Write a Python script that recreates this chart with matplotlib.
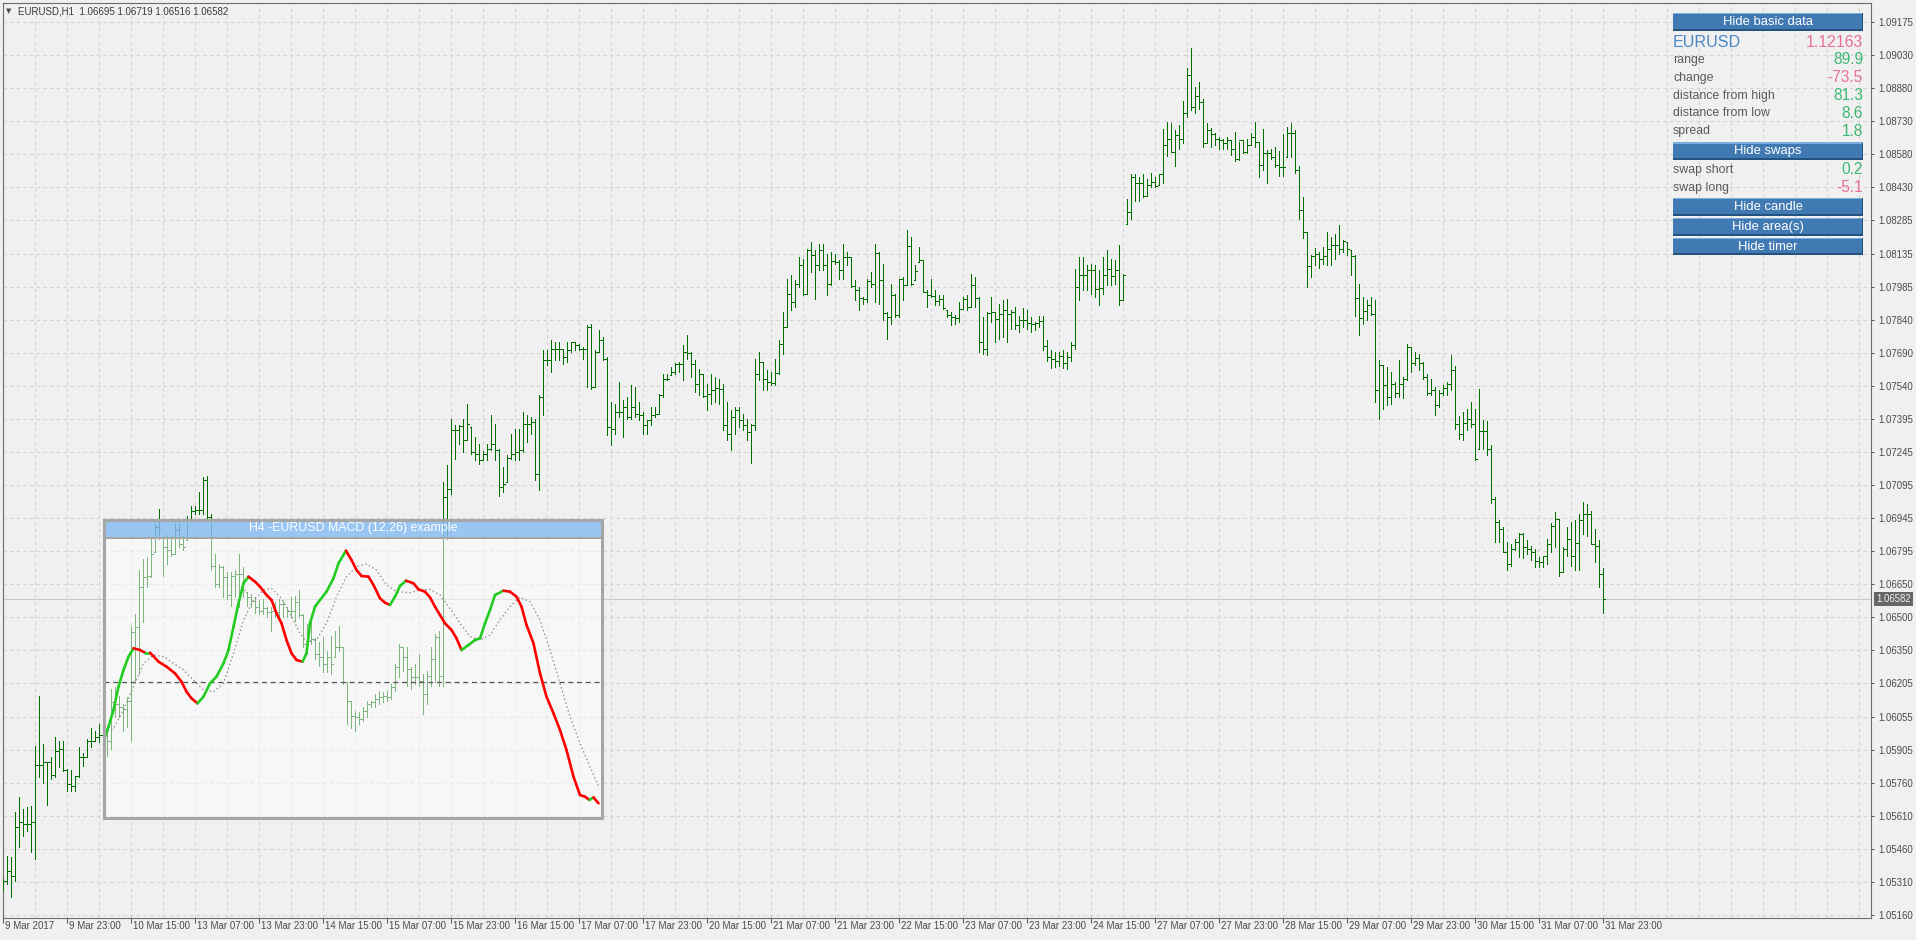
import numpy as np
import matplotlib
matplotlib.use("Agg")
import matplotlib.pyplot as plt
from matplotlib.collections import LineCollection
from matplotlib.patches import Rectangle

plt.rcParams['font.family'] = ['Liberation Sans', 'DejaVu Sans']

# EURUSD H1 bars 9 Mar 2017 07:00 .. 31 Mar 2017 23:00
# prices in points: price = 1 + v / 1e5 ; open = previous close (kept inside the bar range)
bar_high = [
    5322, 5427, 5422, 5621, 5692, 5636, 5647, 5651, 5921, 6146,
    5929, 5850, 5872, 5959, 5941, 5944, 5816, 5812, 5786, 5917,
    5887, 5950, 6001, 5989, 6019, 6019, 5989, 6176, 6184, 6146,
    6109, 6139, 6461, 6514, 6709, 6761, 6769, 6859, 6919, 6986,
    6866, 6869, 6866, 6919, 6919, 6866, 6956, 7001, 7001, 7061,
    7129, 7136, 6964, 6784, 6739, 6731, 6701, 6701, 6709, 6784,
    6724, 6611, 6604, 6590, 6575, 6580, 6545, 6545, 6566, 6581,
    6574, 6544, 6589, 6596, 6619, 6514, 6469, 6499, 6406, 6386,
    6409, 6349, 6416, 6439, 6461, 6364, 6206, 6124, 6079, 6071,
    6094, 6124, 6124, 6154, 6169, 6161, 6169, 6199, 6289, 6379,
    6364, 6364, 6274, 6289, 6334, 6244, 6259, 6364, 6424, 6439,
    7106, 7181, 7391, 7361, 7361, 7391, 7459, 7354, 7309, 7279,
    7246, 7279, 7406, 7369, 7256, 7174, 7226, 7324, 7346, 7346,
    7421, 7406, 7399, 7391, 7496, 7699, 7699, 7744, 7736, 7736,
    7706, 7736, 7736, 7736, 7729, 7714, 7811, 7819, 7699, 7789,
    7759, 7669, 7466, 7459, 7556, 7474, 7489, 7541, 7534, 7466,
    7421, 7384, 7444, 7444, 7504, 7594, 7594, 7624, 7642, 7646,
    7721, 7766, 7691, 7654, 7616, 7594, 7549, 7594, 7579, 7571,
    7549, 7466, 7429, 7444, 7444, 7414, 7391, 7369, 7661, 7691,
    7646, 7609, 7601, 7661, 7744, 7871, 8021, 8036, 8014, 8119,
    8111, 8156, 8186, 8149, 8179, 8179, 8134, 8141, 8134, 8104,
    8179, 8141, 8119, 8014, 7984, 7939, 8021, 8051, 8179, 8141,
    8089, 7871, 7999, 7954, 8021, 8029, 8242, 8209, 8081, 8164,
    8104, 7969, 8021, 7969, 7946, 7946, 7879, 7871, 7856, 7916,
    7939, 7946, 8044, 8029, 7939, 7849, 7871, 7939, 7869, 7909,
    7927, 7931, 7882, 7894, 7852, 7891, 7882, 7849, 7826, 7852,
    7852, 7745, 7700, 7690, 7690, 7700, 7690, 7736, 8066, 8119,
    8119, 8081, 8089, 8081, 8059, 8119, 8149, 8111, 8104, 8171,
    8044, 8381, 8491, 8491, 8479, 8491, 8471, 8494, 8479, 8491,
    8692, 8727, 8719, 8689, 8711, 8821, 8966, 9056, 8881, 8906,
    8827, 8719, 8697, 8674, 8659, 8651, 8659, 8644, 8681, 8636,
    8644, 8651, 8674, 8726, 8636, 8692, 8599, 8606, 8614, 8596,
    8671, 8704, 8719, 8689, 8527, 8389, 8232, 8127, 8157, 8142,
    8164, 8231, 8209, 8224, 8261, 8194, 8186, 8149, 8126, 7999,
    7939, 7924, 7939, 7927, 7654, 7631, 7624, 7601, 7556, 7654,
    7579, 7729, 7714, 7691, 7681, 7646, 7594, 7571, 7534, 7519,
    7541, 7556, 7676, 7627, 7402, 7421, 7436, 7466, 7436, 7526,
    7384, 7381, 7271, 7039, 6934, 6904, 6836, 6829, 6851, 6877,
    6877, 6844, 6821, 6806, 6769, 6776, 6851, 6922, 6971, 6941,
    6814, 6904, 6926, 6937, 6964, 7016, 7009, 6976, 6896, 6844,
    6719,
]
bar_low = [
    5272, 5299, 5239, 5314, 5464, 5516, 5539, 5441, 5412, 5782,
    5752, 5654, 5771, 5779, 5824, 5809, 5719, 5719, 5719, 5779,
    5832, 5869, 5917, 5944, 5936, 5869, 5877, 5906, 6049, 6049,
    5989, 6004, 5944, 6214, 6244, 6476, 6634, 6679, 6791, 6851,
    6686, 6739, 6776, 6784, 6814, 6799, 6847, 6934, 6964, 6964,
    6964, 6934, 6709, 6634, 6634, 6589, 6581, 6551, 6589, 6544,
    6589, 6551, 6544, 6520, 6514, 6514, 6499, 6439, 6499, 6484,
    6499, 6499, 6499, 6484, 6499, 6364, 6364, 6379, 6311, 6281,
    6251, 6251, 6244, 6319, 6349, 6199, 6020, 6000, 5989, 6019,
    6034, 6049, 6094, 6094, 6109, 6116, 6124, 6131, 6169, 6229,
    6259, 6191, 6176, 6199, 6191, 6064, 6109, 6191, 6206, 6191,
    6191, 6851, 7054, 7211, 7279, 7241, 7294, 7234, 7204, 7189,
    7204, 7204, 7249, 7204, 7046, 7061, 7106, 7211, 7204, 7204,
    7241, 7286, 7324, 7114, 7069, 7406, 7631, 7601, 7654, 7654,
    7639, 7646, 7691, 7699, 7699, 7661, 7534, 7526, 7534, 7691,
    7654, 7316, 7271, 7324, 7399, 7309, 7391, 7391, 7399, 7384,
    7324, 7324, 7361, 7399, 7414, 7489, 7564, 7586, 7594, 7601,
    7564, 7661, 7579, 7511, 7496, 7489, 7429, 7459, 7466, 7459,
    7339, 7294, 7250, 7324, 7354, 7339, 7294, 7190, 7339, 7564,
    7519, 7519, 7541, 7541, 7594, 7684, 7804, 7879, 7894, 7984,
    7946, 7954, 8051, 7931, 8059, 8059, 7946, 7991, 8089, 8021,
    8021, 8081, 7984, 7924, 7879, 7909, 7916, 7984, 7916, 7909,
    7834, 7751, 7819, 7849, 7849, 7924, 7991, 7991, 8014, 8096,
    7961, 7894, 7939, 7901, 7901, 7886, 7849, 7811, 7819, 7826,
    7886, 7882, 7894, 7894, 7691, 7684, 7676, 7826, 7736, 7751,
    7759, 7736, 7796, 7796, 7781, 7804, 7796, 7781, 7789, 7804,
    7700, 7650, 7620, 7625, 7630, 7620, 7615, 7650, 7706, 7924,
    7969, 7969, 7954, 7939, 7901, 7954, 7991, 7991, 7999, 7901,
    7924, 8269, 8291, 8371, 8371, 8389, 8392, 8431, 8434, 8441,
    8449, 8572, 8591, 8527, 8606, 8632, 8749, 8779, 8764, 8786,
    8614, 8629, 8614, 8621, 8606, 8606, 8606, 8577, 8551, 8554,
    8584, 8584, 8621, 8614, 8479, 8509, 8452, 8561, 8524, 8482,
    8482, 8569, 8569, 8494, 8291, 8202, 7984, 8029, 8082, 8067,
    8089, 8081, 8081, 8111, 8134, 8141, 8126, 8036, 7852, 7766,
    7819, 7837, 7856, 7466, 7391, 7436, 7451, 7459, 7489, 7489,
    7486, 7564, 7601, 7631, 7609, 7571, 7496, 7496, 7406, 7444,
    7496, 7496, 7519, 7346, 7302, 7294, 7339, 7354, 7204, 7256,
    7256, 7226, 7012, 6836, 6836, 6791, 6709, 6731, 6802, 6769,
    6766, 6784, 6754, 6724, 6724, 6724, 6739, 6791, 6814, 6686,
    6701, 6776, 6731, 6709, 6709, 6874, 6866, 6829, 6746, 6634,
    6516,
]
bar_close = [
    5314, 5359, 5336, 5554, 5576, 5571, 5569, 5576, 5836, 5836,
    5850, 5846, 5791, 5899, 5906, 5813, 5749, 5741, 5786, 5869,
    5869, 5944, 5944, 5959, 5971, 5974, 5944, 6116, 6109, 6094,
    6086, 6124, 6431, 6454, 6634, 6679, 6686, 6784, 6904, 6859,
    6814, 6799, 6784, 6889, 6829, 6814, 6941, 6976, 6979, 6979,
    7114, 6949, 6731, 6649, 6724, 6679, 6599, 6686, 6694, 6694,
    6619, 6589, 6574, 6546, 6529, 6540, 6521, 6529, 6521, 6559,
    6559, 6529, 6529, 6566, 6510, 6379, 6394, 6400, 6334, 6319,
    6289, 6319, 6289, 6364, 6364, 6206, 6124, 6056, 6049, 6041,
    6079, 6109, 6116, 6131, 6139, 6146, 6139, 6184, 6274, 6364,
    6319, 6266, 6229, 6229, 6214, 6154, 6236, 6311, 6409, 6236,
    7039, 7076, 7339, 7339, 7357, 7294, 7369, 7241, 7234, 7204,
    7234, 7256, 7279, 7249, 7084, 7099, 7214, 7234, 7241, 7249,
    7369, 7369, 7376, 7144, 7489, 7654, 7654, 7706, 7706, 7706,
    7669, 7699, 7736, 7721, 7706, 7706, 7804, 7534, 7691, 7744,
    7661, 7354, 7346, 7421, 7421, 7444, 7399, 7444, 7414, 7406,
    7361, 7384, 7406, 7414, 7496, 7570, 7571, 7601, 7639, 7639,
    7691, 7687, 7639, 7546, 7594, 7492, 7504, 7519, 7531, 7526,
    7364, 7324, 7400, 7429, 7384, 7361, 7331, 7361, 7594, 7646,
    7571, 7556, 7552, 7597, 7726, 7804, 7954, 7916, 7999, 8084,
    7954, 8149, 8126, 8084, 8152, 8084, 7996, 8099, 8096, 8062,
    8119, 8119, 7987, 7969, 7936, 7931, 8011, 7999, 8137, 8017,
    7867, 7849, 7946, 7856, 8020, 7994, 8167, 7999, 8054, 8104,
    7961, 7946, 7942, 7919, 7931, 7889, 7856, 7849, 7846, 7886,
    7931, 7894, 7991, 7934, 7736, 7706, 7866, 7871, 7841, 7864,
    7882, 7864, 7871, 7811, 7834, 7837, 7822, 7819, 7822, 7831,
    7720, 7670, 7660, 7650, 7675, 7640, 7670, 7724, 7984, 8036,
    8036, 8059, 8059, 7976, 7979, 8036, 8066, 8032, 8059, 7927,
    8036, 8321, 8479, 8449, 8452, 8392, 8441, 8456, 8437, 8491,
    8621, 8647, 8591, 8669, 8651, 8764, 8936, 8791, 8844, 8816,
    8632, 8689, 8671, 8649, 8644, 8629, 8644, 8606, 8561, 8644,
    8591, 8621, 8656, 8636, 8531, 8584, 8584, 8569, 8531, 8521,
    8524, 8674, 8677, 8509, 8329, 8232, 8077, 8125, 8131, 8111,
    8122, 8156, 8171, 8171, 8156, 8191, 8156, 8122, 7936, 7846,
    7876, 7901, 7864, 7519, 7631, 7541, 7489, 7549, 7507, 7549,
    7571, 7714, 7642, 7666, 7642, 7579, 7507, 7519, 7451, 7507,
    7531, 7546, 7609, 7366, 7324, 7372, 7391, 7366, 7211, 7336,
    7336, 7256, 7031, 6926, 6896, 6794, 6739, 6806, 6836, 6874,
    6814, 6806, 6791, 6751, 6746, 6772, 6829, 6907, 6941, 6701,
    6806, 6851, 6772, 6832, 6937, 6964, 6964, 6829, 6821, 6695,
    6582,
]

xtick_labels = ["9 Mar 2017", "9 Mar 23:00", "10 Mar 15:00", "13 Mar 07:00", "13 Mar 23:00",
                "14 Mar 15:00", "15 Mar 07:00", "15 Mar 23:00", "16 Mar 15:00", "17 Mar 07:00",
                "17 Mar 23:00", "20 Mar 15:00", "21 Mar 07:00", "21 Mar 23:00", "22 Mar 15:00",
                "23 Mar 07:00", "23 Mar 23:00", "24 Mar 15:00", "27 Mar 07:00", "27 Mar 23:00",
                "28 Mar 15:00", "29 Mar 07:00", "29 Mar 23:00", "30 Mar 15:00", "31 Mar 07:00",
                "31 Mar 23:00"]
ytick_labels = ["1.05160", "1.05310", "1.05460", "1.05610", "1.05760", "1.05905", "1.06055",
                "1.06205", "1.06350", "1.06500", "1.06650", "1.06795", "1.06945", "1.07095",
                "1.07245", "1.07395", "1.07540", "1.07690", "1.07840", "1.07985", "1.08135",
                "1.08285", "1.08430", "1.08580", "1.08730", "1.08880", "1.09030", "1.09175"]
header = "EURUSD,H1  1.06695 1.06719 1.06516 1.06582"
last_price = 1.06582

# H4 MACD(12,26) inset, values in points (1e-5)
macd_x = [0, 0.9, 1.9, 2.9, 3.9, 4.9, 5.9, 7.2, 8.2, 9.2, 10.9, 12.5, 14.2, 15.5, 16.5, 17.5,
          18.7, 19.9, 21.2, 22.5, 23.9, 24.9, 25.9, 26.9, 27.9, 28.9, 30.2, 31.2, 32.5, 33.5,
          34.5, 35.5, 36.5, 37.5, 38.5, 39.7, 40.5, 41.2, 42.2, 43.2, 44.5, 45.9, 46.9, 48.4,
          49.5, 50.5, 51.5, 52.9, 53.9, 55.2, 56.2, 57.2, 58.2, 59.2, 60.4, 61.9, 62.9, 64.2,
          65.2, 66.2, 67.2, 68.2, 69.5, 70.5, 71.5, 72.9, 74.2, 75.2, 76.2, 77.2, 78.2, 79.9,
          81.2, 82.5, 83.5, 84.5, 85.9, 87.2, 88.5, 89.9, 91.2, 92.5, 93.9, 95.2, 96.2, 97.1,
          97.9, 98.9]
macd_val = [-175, -135, -85, -15, 35, 75, 100, 95, 87, 87, 60, 45, 25, 0, -30, -50,
            -65, -45, -5, 15, 55, 95, 165, 235, 295, 315, 300, 285, 260, 245,
            205, 175, 125, 85, 65, 60, 85, 175, 225, 245, 270, 310, 355, 393,
            365, 335, 317, 315, 290, 250, 237, 230, 255, 287, 303, 295, 277, 270,
            253, 225, 200, 175, 155, 130, 95, 110, 125, 130, 175, 215, 260, 273,
            270, 255, 225, 170, 115, 25, -45, -95, -145, -205, -285, -340, -345, -355,
            -347, -365]
sig_x = [0, 1.9, 3.9, 5.9, 7.9, 9.9, 11.9, 13.9, 15.9, 17.9, 19.9, 21.9, 23.9, 25.9, 27.9,
         29.9, 31.9, 33.5, 35.2, 37.2, 39.2, 40.5, 42.5, 44.5, 46.5, 48.5, 50.5, 52.5, 54.5,
         56.5, 58.5, 61.2, 63.2, 65.2, 67.2, 69.2, 71.2, 73.2, 75.2, 77.2, 79.2, 81.2, 83.2,
         85.2, 87.2, 89.2, 91.2, 93.2, 95.2, 97.2, 98.9]
sig_val = [-155, -140, -85, -15, 55, 80, 75, 55, 35, 5, -25, -30, -5, 85, 185,
           245, 275, 280, 255, 205, 145, 120, 125, 175, 255, 315, 345, 353, 335,
           290, 270, 267, 275, 277, 260, 220, 175, 135, 125, 140, 185, 225, 253,
           240, 185, 95, -5, -105, -185, -255, -313]
inset_title = "H4 -EURUSD MACD (12,26) example"

symbol_name, symbol_value = "EURUSD", "1.12163"
info_labels = ["range", "change", "distance from high", "distance from low", "spread"]
info_values = ["89.9", "-73.5", "81.3", "8.6", "1.8"]
swap_labels = ["swap short", "swap long"]
swap_values = ["0.2", "-5.1"]
button_labels = ["Hide basic data", "Hide swaps", "Hide candle", "Hide area(s)", "Hide timer"]

W, HP = 1916, 940
BG = '#f0f0f0'
GRID = '#d2d2d2'
BAR = '#006e00'
GREEN_TXT = '#3db873'
PINK_TXT = '#e8709a'

fig = plt.figure(figsize=(W / 100, HP / 100), dpi=100, facecolor=BG)


def box(x0, y0, x1, y1):
    return [x0 / W, 1 - y1 / HP, (x1 - x0) / W, (y1 - y0) / HP]


def fig_rect(x0, y0, x1, y1, **kw):
    r = Rectangle((x0 / W, 1 - y1 / HP), (x1 - x0) / W, (y1 - y0) / HP,
                  transform=fig.transFigure, **kw)
    fig.add_artist(r)
    return r


ax = fig.add_axes(box(2.5, 2.5, 1871, 918))
ax.set_facecolor(BG)

n = min(len(bar_high), len(bar_low), len(bar_close))
hi = 1 + np.array(bar_high[:n]) / 1e5
lo = 1 + np.array(bar_low[:n]) / 1e5
cl = 1 + np.array(bar_close[:n]) / 1e5
op = np.clip(np.r_[cl[0], cl[:-1]], lo, hi)

segs = []
for i in range(n):
    segs.append([(i, lo[i]), (i, hi[i])])
    segs.append([(i - 0.35, op[i]), (i, op[i])])
    segs.append([(i, cl[i]), (i + 0.35, cl[i])])
ax.add_collection(LineCollection(segs, colors=BAR, linewidths=0.72,
                                 antialiased=False, zorder=3))

ax.axhline(last_price, color='#c9c9c9', lw=0.8, zorder=1)

ax.set_xlim(-0.2, 466.9)
ax.set_ylim(1.051465, 1.092627)

xt = np.arange(len(xtick_labels)) * 16
ax.set_xticks(xt)
ax.set_xticks(np.arange(8, 467, 8), minor=True)
ax.tick_params(axis='x', which='major', direction='out', length=3.6, width=0.7,
               color='#505050', labelbottom=False)
ax.tick_params(axis='x', which='minor', length=0)
for pos, lab in zip(xt, xtick_labels):
    ax.annotate(lab, xy=(pos, 0), xycoords=ax.get_xaxis_transform(),
                xytext=(1.5, -3), textcoords='offset pixels', ha='left', va='top',
                fontsize=7, color='#4a4a4a')

yt = np.linspace(1.05160, 1.09175, len(ytick_labels))
ax.yaxis.tick_right()
ax.set_yticks(yt)
ax.set_yticklabels(ytick_labels)
ax.tick_params(axis='y', direction='out', length=2.5, width=0.7, pad=3,
               labelsize=6.9, labelcolor='#4a4a4a', color='#505050')

ax.grid(True, axis='x', which='both', color=GRID, lw=0.8, ls=(0, (3, 3)), zorder=0)
ax.grid(True, axis='y', which='major', color=GRID, lw=0.8, ls=(0, (3, 3)), zorder=0)
ax.set_axisbelow(True)
for s in ax.spines.values():
    s.set_color('#6e6e6e')
    s.set_linewidth(0.8)

ax.annotate(f"{last_price:.5f}", xy=(1, last_price), xycoords=ax.get_yaxis_transform(),
            xytext=(5, 0), textcoords='offset pixels', ha='left', va='center',
            fontsize=6.9, color='#f2f2f2',
            bbox=dict(boxstyle='square,pad=0.2', fc='#666666', ec='none'))

# header
fig.text(6 / W, 1 - 11 / HP, "\u25BC", fontsize=5, color='#505050', va='center',
         family='DejaVu Sans')
fig.text(18 / W, 1 - 11 / HP, header, fontsize=7, color='#3a3a3a', va='center')

# MACD inset
axm = fig.add_axes(box(104, 538, 602, 818), zorder=2)
axm.set_facecolor((1, 1, 1, 0.5))
axm.set_xlim(0, 99.6)
axm.set_ylim(-409, 431)
axm.set_xticks([])
axm.set_yticks([])
for s in axm.spines.values():
    s.set_visible(False)
axm.axhline(0, color='#555555', lw=0.9, ls=(0, (4, 3)))
axm.plot(sig_x, sig_val, color='#8c8c8c', lw=0.9, ls=(0, (1.2, 2.0)))
mx = np.array(macd_x)
mv = np.array(macd_val)
mseg = [[(mx[k], mv[k]), (mx[k + 1], mv[k + 1])] for k in range(len(mx) - 1)]
mcol = ['#22cc22' if mv[k + 1] >= mv[k] else '#ff0000' for k in range(len(mx) - 1)]
axm.add_collection(LineCollection(mseg, colors=mcol, linewidths=1.9, capstyle='round'))

fig_rect(104, 520, 602, 537, fc='#86bcf4', ec='none', alpha=0.82, zorder=3)
fig_rect(104, 536.5, 602, 539, fc='#a6a6a6', ec='none', zorder=4)
fig_rect(104, 520, 602, 818, fc='none', ec='#a6a6a6', lw=2.2, zorder=4)
fig.text(353 / W, 1 - 528.5 / HP, inset_title, fontsize=8.9, color='white',
         ha='center', va='center', zorder=5)

# info panel (top right)
btn_rows = [(13, 31), (142.5, 159.5), (198, 215.5), (218, 235.5), (238, 255)]
for lab, (y0, y1) in zip(button_labels, btn_rows):
    fig_rect(1673, y0, 1863, y1, fc='#4179b2', ec='none', zorder=3)
    fig_rect(1673, y0, 1863, y0 + 1.2, fc='#7aaee0', ec='none', zorder=4)
    fig_rect(1673, y1 - 1.5, 1863, y1, fc='#23527f', ec='none', zorder=4)
    fig_rect(1861.5, y0, 1863, y1, fc='#23527f', ec='none', zorder=4)
    fig.text(1768 / W, 1 - (y0 + y1) / 2 / HP, lab, fontsize=9.4, color='white',
             ha='center', va='center', zorder=5)

fig.text(1673 / W, 1 - 42.5 / HP, symbol_name, fontsize=11.6, color='#4a86c4', va='center')
fig.text(1863 / W, 1 - 42.5 / HP, symbol_value, fontsize=11.4, color=PINK_TXT,
         ha='right', va='center')
row_y = [60, 77.7, 95.7, 113.3, 131.3]
for lab, val, y in zip(info_labels, info_values, row_y):
    fig.text(1673 / W, 1 - y / HP, lab, fontsize=8.9, color='#5a5a5a', va='center')
    fig.text(1863 / W, 1 - y / HP, val, fontsize=11.2, ha='right', va='center',
             color=PINK_TXT if val.startswith('-') else GREEN_TXT)
for lab, val, y in zip(swap_labels, swap_values, [170, 187.7]):
    fig.text(1673 / W, 1 - y / HP, lab, fontsize=8.9, color='#5a5a5a', va='center')
    fig.text(1863 / W, 1 - y / HP, val, fontsize=11.2, ha='right', va='center',
             color=PINK_TXT if val.startswith('-') else GREEN_TXT)

fig.savefig("out.png", dpi=100, facecolor=BG)
